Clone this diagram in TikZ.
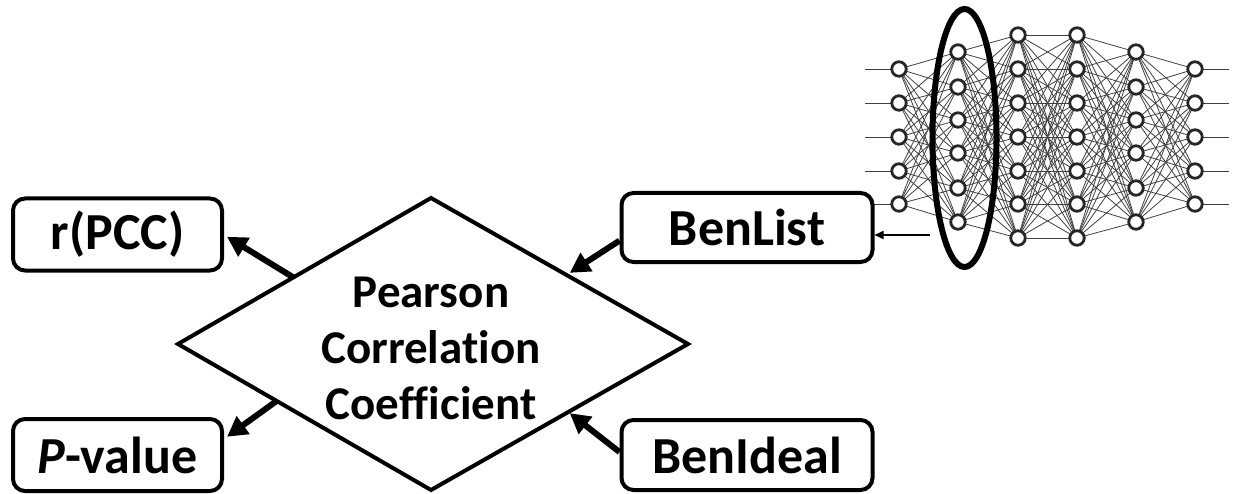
\documentclass[tikz,border=0pt]{standalone}
\usepackage{fontspec}
\setmainfont{Carlito}[Ligatures=NoCommon]
\usetikzlibrary{arrows.meta,calc,shapes.geometric}
\begin{document}
\begin{tikzpicture}[x=1pt,y=-1pt,
  box/.style={draw=black,line width=4pt,rounded corners=12pt,fill=white,inner sep=0pt,
    font=\fontsize{52}{60}\selectfont\bfseries},
  bigarrow/.style={line width=6pt,-{Triangle[length=20pt,width=21pt]}},
  neuron/.style={circle,draw=black!85,line width=2.8pt,fill=white,minimum size=14.5pt,inner sep=0pt},
  wire/.style={draw=black!75,line width=0.8pt},
]
\useasboundingbox (0,0) rectangle (1233,494);

% ---------- neural network ----------
\foreach \j [count=\k] in {69,103,137,171,204} {\coordinate (a\k) at (899,\j);}
\foreach \j [count=\k] in {52,87,120,153,188,222} {\coordinate (b\k) at (958,\j);}
\foreach \j [count=\k] in {35,69,103,137,171,204,238} {\coordinate (c\k) at (1018,\j);}
\foreach \j [count=\k] in {35,69,103,137,171,204,238} {\coordinate (d\k) at (1077,\j);}
\foreach \j [count=\k] in {52,87,120,153,188,222} {\coordinate (e\k) at (1136,\j);}
\foreach \j [count=\k] in {69,103,137,171,204} {\coordinate (f\k) at (1195,\j);}
% connections
\foreach \p in {1,...,5} \foreach \q in {1,...,6} {\draw[wire] (a\p) -- (b\q);}
\foreach \p in {1,...,6} \foreach \q in {1,...,7} {\draw[wire] (b\p) -- (c\q);}
\foreach \p in {1,...,7} \foreach \q in {1,...,7} {\draw[wire] (c\p) -- (d\q);}
\foreach \p in {1,...,7} \foreach \q in {1,...,6} {\draw[wire] (d\p) -- (e\q);}
\foreach \p in {1,...,6} \foreach \q in {1,...,5} {\draw[wire] (e\p) -- (f\q);}
\foreach \p [count=\k] in {69,103,137,171,204} {
  \coordinate (in\k) at (865,\p);
  \coordinate (out\k) at (1229,\p);
  \draw[wire] (in\k) -- (a\k);
  \draw[wire] (f\k) -- (out\k);
}
% neurons
\foreach \k in {1,...,5} {\node[neuron] (na\k) at (a\k) {}; \node[neuron] (nf\k) at (f\k) {};}
\foreach \k in {1,...,6} {\node[neuron] (nb\k) at (b\k) {}; \node[neuron] (ne\k) at (e\k) {};}
\foreach \k in {1,...,7} {\node[neuron] (nc\k) at (c\k) {}; \node[neuron] (nd\k) at (d\k) {};}
% highlight ellipse
\node[draw=black,line width=6pt,ellipse,minimum width=64pt,minimum height=258pt,inner sep=0pt] (hl) at (964.5,138) {};

% ---------- diagram ----------
\coordinate (dW) at (178,344);
\coordinate (dN) at (431,198);
\coordinate (dE) at (688,344);
\coordinate (dS) at (431,490);
\draw[line width=4pt,fill=white,line join=miter] (dW) -- (dN) -- (dE) -- (dS) -- cycle;
\node[align=center,font=\fontsize{47}{56}\selectfont\bfseries,inner sep=0pt] (pcc) at (431,348)
  {Pearson\\Correlation\\Coefficient};

\node[box,minimum width=209pt,minimum height=72pt] (rpcc) at (117.5,234.5) {r(PCC)};
\node[box,minimum width=209pt,minimum height=72pt] (pval) at (117.5,455) {\textit{P}-value};
\node[box,minimum width=251pt,minimum height=69pt] (blist) at (747,227.5) {BenList};
\node[box,minimum width=251pt,minimum height=70pt] (bideal) at (747,455) {BenIdeal};

\draw[bigarrow] ($(dW)!0.456!(dN)$) -- ($(rpcc.north east)!0.53!(rpcc.south east)+(3,0)$);
\draw[bigarrow] ($(dW)!0.39!(dS)$) -- ($(pval.north east)!0.26!(pval.south east)+(3,0)$);
\draw[bigarrow] ($(blist.north west)!0.68!(blist.south west)$) -- ($(dN)!0.54!(dE)+(0,-4)$);
\draw[bigarrow] ($(bideal.north west)!0.46!(bideal.south west)$) -- ($(dS)!0.54!(dE)+(0,2)$);

\draw[line width=1.8pt,-{Triangle[length=9pt,width=8pt]}] (hl.west |- 0,235) coordinate (hlw) -- (blist.east |- hlw);
\end{tikzpicture}
\end{document}
